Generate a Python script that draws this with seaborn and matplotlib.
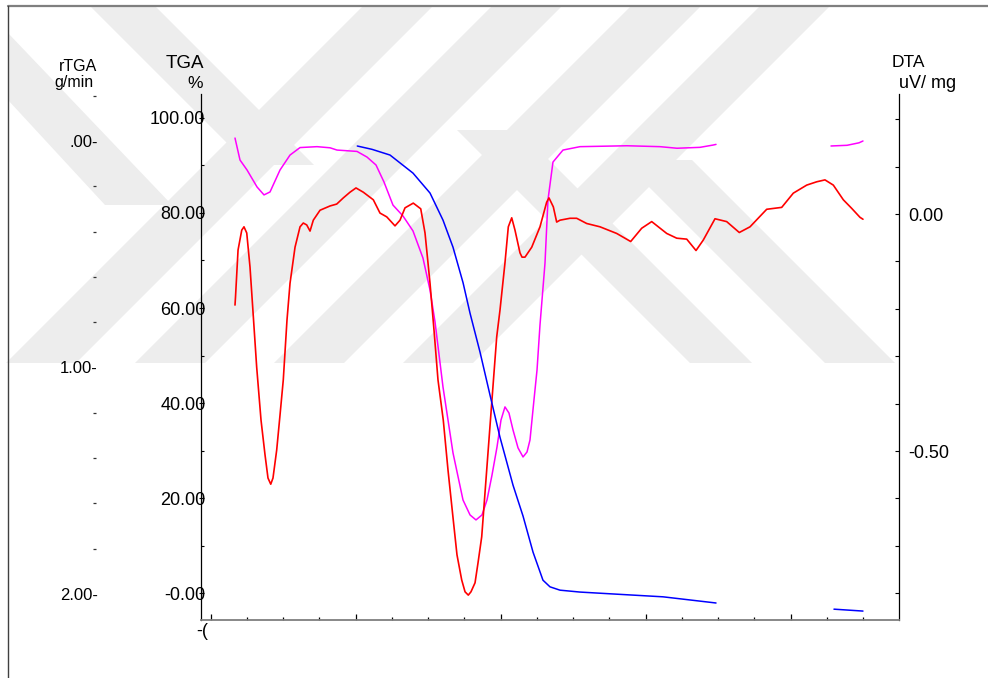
import matplotlib
matplotlib.use("Agg")
import matplotlib.pyplot as plt
import seaborn as sns
import pandas as pd
from matplotlib.patches import Polygon
from matplotlib.lines import Line2D
from matplotlib.ticker import FixedLocator, FixedFormatter, NullFormatter

# ---------------- data ----------------
# DTA (uV/mg) - red
dta_time = [3.35, 3.42, 3.77, 4.28, 4.59, 4.97, 5.42, 5.88, 6.34, 6.94,
            7.49, 7.90, 8.28, 8.59, 9.10, 9.56, 10.01, 10.52, 10.94, 11.63,
            12.32, 12.77, 13.24, 13.70, 14.15, 15.08, 16.46, 17.38, 18.29, 19.21,
            20.04, 21.05, 22.43, 23.35, 24.28, 25.42, 26.11, 26.80, 27.94, 28.97,
            29.56, 30.25, 30.80, 31.35, 32.08, 32.73, 33.46, 33.97, 34.62, 35.08,
            35.53, 35.90, 36.46, 36.87, 37.38, 38.07, 38.76, 39.45, 39.90, 40.59,
            41.05, 41.52, 41.97, 42.66, 42.94, 43.35, 44.28, 45.42, 46.34, 46.66,
            47.26, 47.72, 48.18, 49.56, 50.48, 51.86, 53.70, 56.00, 57.93, 59.45,
            60.83, 62.90, 64.28, 65.66, 66.94, 67.94, 69.56, 71.17, 72.91, 74.39,
            76.69, 78.76, 80.36, 82.21, 83.59, 84.73, 85.88, 87.26, 88.41, 89.56,
            89.97]
dta_uv = [-0.192, -0.175, -0.076, -0.034, -0.027, -0.040, -0.112, -0.217, -0.323, -0.435,
          -0.508, -0.557, -0.570, -0.557, -0.498, -0.424, -0.350, -0.224, -0.146, -0.070,
          -0.027, -0.019, -0.023, -0.036, -0.013, 0.008, 0.017, 0.021, 0.034, 0.046,
          0.055, 0.046, 0.030, 0.002, -0.006, -0.025, -0.013, 0.013, 0.023, 0.011,
          -0.040, -0.146, -0.245, -0.350, -0.435, -0.540, -0.646, -0.719, -0.772, -0.797,
          -0.804, -0.797, -0.778, -0.736, -0.681, -0.540, -0.399, -0.259, -0.203, -0.103,
          -0.027, -0.008, -0.034, -0.082, -0.091, -0.091, -0.070, -0.027, 0.025, 0.034,
          0.015, -0.017, -0.013, -0.009, -0.009, -0.020, -0.027, -0.041, -0.058, -0.030,
          -0.016, -0.041, -0.051, -0.053, -0.077, -0.055, -0.010, -0.016, -0.039, -0.027,
          0.010, 0.014, 0.044, 0.061, 0.068, 0.072, 0.061, 0.030, 0.012, -0.007,
          -0.011]

# TGA (%) - blue, two recorded segments
tga_time_a = [20.22, 22.25, 24.73, 27.90, 30.25, 32.04, 33.42, 34.81, 35.77, 37.15, 38.52,
              39.90, 41.70, 43.08, 44.46, 45.83, 46.80, 48.18, 50.94, 55.50, 62.39, 69.70]
tga_pct_a = [94.1, 93.4, 92.2, 88.4, 84.2, 78.5, 72.8, 65.3, 58.9, 50.7, 41.7,
             32.8, 22.7, 16.2, 8.6, 2.7, 1.3, 0.6, 0.2, -0.2, -0.8, -2.1]
tga_time_b = [85.97, 89.97]
tga_pct_b = [-3.4, -3.8]

# rTGA (g/min) - magenta, two recorded segments
rtga_time_a = [3.35, 4.04, 5.01, 6.39, 7.35, 8.18, 9.56, 10.94, 12.32, 14.66,
               16.46, 17.42, 20.18, 21.56, 22.80, 23.90, 25.14, 26.52, 27.90, 29.28,
               30.25, 30.94, 32.04, 33.42, 34.80, 35.77, 36.59, 37.42, 38.11, 38.80,
               39.49, 40.04, 40.59, 41.14, 41.70, 42.39, 43.08, 43.63, 44.04, 44.59,
               45.01, 45.42, 46.11, 46.52, 47.21, 48.59, 50.94, 57.42, 61.97, 64.32,
               67.49, 69.28, 69.70]
rtga_a = [-0.013, 0.084, 0.128, 0.203, 0.238, 0.225, 0.128, 0.062, 0.029, 0.025,
          0.030, 0.040, 0.046, 0.071, 0.106, 0.181, 0.283, 0.331, 0.397, 0.517,
          0.658, 0.799, 1.086, 1.377, 1.585, 1.651, 1.673, 1.651, 1.585, 1.475,
          1.351, 1.232, 1.174, 1.201, 1.276, 1.355, 1.395, 1.373, 1.320, 1.143,
          1.011, 0.812, 0.539, 0.260, 0.093, 0.040, 0.025, 0.021, 0.025, 0.032,
          0.028, 0.018, 0.015]
rtga_time_b = [85.56, 87.77, 89.42, 89.97]
rtga_b = [0.022, 0.019, 0.008, 0.0]

# axis ticks / labels
tga_major = [0, 20, 40, 60, 80, 100]
tga_labels = ["-0.00", "20.00", "40.00", "60.00", "80.00", "100.00"]
tga_minor = [10, 30, 50, 70, 90]
dta_major = [0.0, -0.5]
dta_labels = ["0.00", "-0.50"]
dta_minor = [0.2, 0.1, -0.1, -0.2, -0.3, -0.4, -0.6, -0.7, -0.8]
rtga_major = [0, 1, 2]
rtga_labels = [".00-", "1.00-", "2.00-"]
rtga_minor = [-0.2, 0.2, 0.4, 0.6, 0.8, 1.2, 1.4, 1.6, 1.8]
time_major = [0, 20, 40, 60, 80]
time_minor = [5, 10, 15, 25, 30, 35, 45, 50, 55, 65, 70, 75, 85, 90]

# ---------------- figure ----------------
sns.set_theme(style="white")
plt.rcParams["font.family"] = ["Liberation Sans", "DejaVu Sans"]
plt.rcParams["text.color"] = "black"

W, H = 988, 678
fig = plt.figure(figsize=(W / 100, H / 100), dpi=100)
fig.patch.set_facecolor("white")

def px(x, y):
    return (x / W, 1 - y / H)

# faint background watermark bands (decorative)
wm = "#ededed"
bands = []
for b in [6, 135, 274, 403]:          # "/" bands
    bands.append([px(b, 363), px(b + 70, 363), px(b + 427, 6), px(b + 357, 6)])
bands.append([px(8, 33), px(8, 100), px(105, 205), px(172, 205)])      # left "\"
bands.append([px(90, 6), px(155, 6), px(314, 165), px(249, 165)])      # left "\"
bands.append([px(457, 130), px(519, 130), px(752, 363), px(690, 363)])  # right "\"
bands.append([px(622, 160), px(692, 160), px(895, 363), px(825, 363)])  # right "\"
for pts in bands:
    fig.add_artist(Polygon(pts, closed=True, transform=fig.transFigure,
                           facecolor=wm, edgecolor="none", zorder=-5))

# outer frame lines
fig.add_artist(Line2D([8 / W, 1.0], [1 - 6 / H, 1 - 6 / H], transform=fig.transFigure,
                      color="#7f7f7f", lw=1.6))
fig.add_artist(Line2D([8 / W, 8 / W], [0, 1 - 6 / H], transform=fig.transFigure,
                      color="#404040", lw=1.0))

ax = fig.add_axes([201 / W, 1 - 620 / H, 698 / W, 526 / H])
ax.set_facecolor("none")
ax2 = ax.twinx()
ax3 = ax.twinx()
ax.set_zorder(3)
ax2.set_zorder(2)
ax3.set_zorder(1)
for a in (ax2, ax3):
    a.set_facecolor("none")

# rTGA (magenta)
df_r = pd.concat([
    pd.DataFrame({"t": rtga_time_a, "v": rtga_a, "seg": 0}),
    pd.DataFrame({"t": rtga_time_b, "v": rtga_b, "seg": 1}),
])
sns.lineplot(data=df_r, x="t", y="v", units="seg", estimator=None, sort=False,
             color="#ff00ff", lw=1.1, ax=ax3, legend=False)

# DTA (red)
df_d = pd.DataFrame({"t": dta_time, "v": dta_uv})
sns.lineplot(data=df_d, x="t", y="v", estimator=None, sort=False,
             color="#ff0000", lw=1.2, ax=ax2, legend=False)

# TGA (blue)
df_t = pd.concat([
    pd.DataFrame({"t": tga_time_a, "v": tga_pct_a, "seg": 0}),
    pd.DataFrame({"t": tga_time_b, "v": tga_pct_b, "seg": 1}),
])
sns.lineplot(data=df_t, x="t", y="v", units="seg", estimator=None, sort=False,
             color="#0000ff", lw=1.1, ax=ax, legend=False)

for a in (ax, ax2, ax3):
    a.set_xlabel("")
    a.set_ylabel("")
    a.grid(False)

ax.set_xlim(-1.34, 94.94)
ax.set_ylim(-5.68, 105.05)
ax2.set_ylim(-0.8565, 0.2532)
ax3.set_ylim(2.1148, -0.2075)

# ---- main axis (TGA, left) + time axis ----
for s in ("top", "right"):
    ax.spines[s].set_visible(False)
ax.spines["left"].set_color("black")
ax.spines["left"].set_linewidth(0.9)
ax.spines["bottom"].set_color("#7f7f7f")
ax.spines["bottom"].set_linewidth(1.3)

ax.yaxis.set_major_locator(FixedLocator(tga_major))
ax.yaxis.set_major_formatter(FixedFormatter(tga_labels))
ax.yaxis.set_minor_locator(FixedLocator(tga_minor))
ax.yaxis.set_minor_formatter(NullFormatter())
ax.tick_params(axis="y", which="major", direction="inout", length=3.6, width=0.8,
               color="black", pad=-5, labelsize=13, labelcolor="black", left=True)
ax.tick_params(axis="y", which="minor", direction="in", length=2.2, width=0.8,
               color="black", left=True)

ax.xaxis.set_major_locator(FixedLocator(time_major))
ax.xaxis.set_major_formatter(NullFormatter())
ax.xaxis.set_minor_locator(FixedLocator(time_minor))
ax.xaxis.set_minor_formatter(NullFormatter())
ax.tick_params(axis="x", which="major", direction="in", length=4.3, width=0.9,
               color="black", bottom=True)
ax.tick_params(axis="x", which="minor", direction="in", length=2.0, width=0.9,
               color="black", bottom=True)
ax.annotate("-(", xy=(0, 0), xycoords=("data", "axes fraction"), xytext=(-2, -2),
            textcoords="offset points", ha="right", va="top", fontsize=13, color="black")

# ---- DTA axis (right) ----
for s in ("top", "left", "bottom"):
    ax2.spines[s].set_visible(False)
ax2.spines["right"].set_color("black")
ax2.spines["right"].set_linewidth(0.9)
ax2.yaxis.set_major_locator(FixedLocator(dta_major))
ax2.yaxis.set_major_formatter(FixedFormatter(dta_labels))
ax2.yaxis.set_minor_locator(FixedLocator(dta_minor))
ax2.yaxis.set_minor_formatter(NullFormatter())
ax2.tick_params(axis="y", which="both", direction="in", length=2.9, width=0.8,
                color="black", right=True, left=False)
ax2.tick_params(axis="y", which="major", pad=7, labelsize=13, labelcolor="black")

# ---- rTGA axis (far left, ticks only) ----
for s in ("top", "right", "bottom", "left"):
    ax3.spines[s].set_visible(False)
ax3.yaxis.tick_left()
ax3.spines["left"].set_position(("axes", (96 - 201) / 698))
ax3.yaxis.set_major_locator(FixedLocator(rtga_major))
ax3.yaxis.set_major_formatter(FixedFormatter(rtga_labels))
ax3.yaxis.set_minor_locator(FixedLocator(rtga_minor))
ax3.yaxis.set_minor_formatter(NullFormatter())
ax3.tick_params(axis="y", which="major", length=0, pad=-1.4, labelsize=12,
                labelcolor="black", left=True, right=False)
ax3.tick_params(axis="y", which="minor", direction="out", length=2.2, width=0.9,
                color="#333333", left=True, right=False)
ax3.tick_params(axis="x", which="both", bottom=False, top=False)

# ---- axis titles ----
tk = dict(color="black")
fig.text(97 / W, 1 - 71 / H, "rTGA", ha="right", va="baseline", fontsize=11.5, **tk)
fig.text(93 / W, 1 - 87 / H, "g/min", ha="right", va="baseline", fontsize=11.5, **tk)
fig.text(204 / W, 1 - 67.5 / H, "TGA", ha="right", va="baseline", fontsize=13.5, **tk)
fig.text(203 / W, 1 - 88 / H, "%", ha="right", va="baseline", fontsize=12.5, **tk)
fig.text(892 / W, 1 - 67 / H, "DTA", ha="left", va="baseline", fontsize=12.5, **tk)
fig.text(899 / W, 1 - 88 / H, "uV/ mg", ha="left", va="baseline", fontsize=13, **tk)

fig.savefig("out.png", dpi=100, facecolor="white")
